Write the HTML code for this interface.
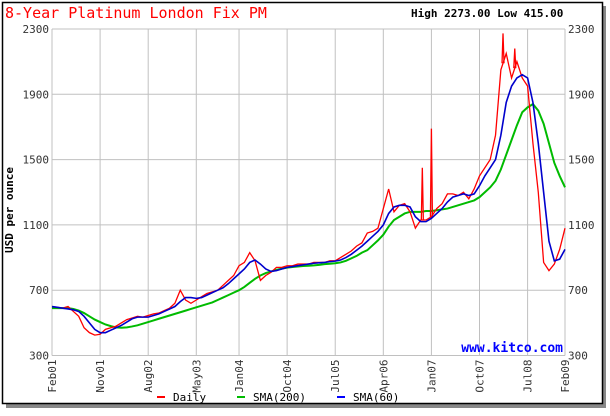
<!DOCTYPE html>
<html><head><meta charset="utf-8"><style>
body{margin:0;background:#fff;}
svg text{font-family:"DejaVu Sans Mono","Liberation Mono",monospace;}
</style></head><body>
<svg id="c" width="610" height="411" xmlns="http://www.w3.org/2000/svg">
<rect x="6" y="6" width="600" height="402" fill="#888"/>
<rect x="2.5" y="2.5" width="600" height="401" fill="#fff" stroke="#000" stroke-width="1.5"/>
<text x="5" y="18" font-size="15" fill="#f00">8-Year Platinum London Fix PM</text>
<text x="411" y="17" font-size="11" font-weight="bold" fill="#000">High 2273.00 Low 415.00</text>
<text x="9" y="210" font-size="11" font-weight="bold" transform="rotate(-90 9 210)" text-anchor="middle" dy="4">USD per ounce</text>
<g id="grid"></g><g id="series"></g>
<text x="563" y="352" font-size="13" font-weight="bold" fill="#00f" text-anchor="end">www.kitco.com</text>
<g font-size="11">
<rect x="157" y="396" width="8" height="2" fill="#f00"/>
<text x="173" y="401">Daily</text>
<rect x="237" y="396" width="8" height="2" fill="#0b0"/>
<text x="253" y="401">SMA(200)</text>
<rect x="337" y="396" width="8" height="2" fill="#00f"/>
<text x="353" y="401">SMA(60)</text>
</g>
</svg>
<script>
const yTicks=[2300,1900,1500,1100,700,300];
const xTickLabels=["Feb01","Nov01","Aug02","May03","Jan04","Oct04","Jul05","Apr06","Jan07","Oct07","Jul08","Feb09"];
const xTickMonths=[0,9,18,27,35,44,53,62,71,80,89,96];
const daily=[600,595,590,600,570,540,470,440,425,430,460,
470,480,500,520,530,540,535,545,555,560,575,590,
620,700,640,620,640,660,680,690,700,730,760,790,
850,870,930,880,760,790,810,840,840,850,850,860,
860,860,870,870,870,880,880,900,920,940,970,990,
1050,1060,1080,1200,1320,1180,1220,1230,1180,1080,1130,1130,
1150,1200,1230,1290,1290,1280,1300,1260,1320,1400,1450,1500,
1650,2050,2150,2000,2100,2000,1950,1600,1300,870,820,860,
950,1080];
const spikeMonths=[69.3,71,84.4,86.6];
const spikeValues=[1450,1690,2273,2180];
const sma200=[590,590,590,590,585,575,560,540,520,505,490,
480,472,470,472,478,485,495,505,515,525,535,545,
555,565,575,585,595,605,615,625,640,655,670,685,
700,720,745,770,790,805,815,825,832,838,842,845,
848,850,852,855,860,862,865,870,880,895,910,930,
945,975,1005,1040,1090,1130,1150,1170,1180,1180,1180,1185,
1185,1190,1195,1200,1210,1220,1230,1240,1250,1270,1300,1330,
1370,1440,1530,1620,1710,1790,1820,1840,1800,1720,1600,1480,
1400,1330];
const sma60=[600,595,590,585,580,570,540,500,460,440,440,
455,470,485,505,525,535,535,535,545,555,570,585,
600,630,655,655,650,655,670,685,700,715,740,770,
800,830,870,885,860,830,815,820,830,840,845,850,
855,860,865,868,870,875,878,885,900,920,945,970,
1000,1030,1060,1100,1170,1210,1220,1220,1210,1150,1120,1120,
1140,1170,1200,1240,1270,1280,1290,1280,1290,1340,1400,1450,
1500,1650,1850,1950,2000,2020,2000,1850,1600,1300,1000,880,
890,950];
const X0=52,X1=565,Y0=29,Y1=355.5;
const xs=m=>X0+m*(X1-X0)/96;
const ys=v=>Y1-(v-300)*(Y1-Y0)/2000;
const NS="http://www.w3.org/2000/svg";
const grid=document.getElementById('grid'),ser=document.getElementById('series');
function mk(t,a,p){const e=document.createElementNS(NS,t);for(const k in a)e.setAttribute(k,a[k]);p.appendChild(e);return e;}
yTicks.forEach(v=>{
 const l=mk('line',{x1:X0,x2:X1,y1:ys(v),y2:ys(v),stroke:'#c0c0c0'},grid);
 
 
 [[X0-3,'end'],[X1+3,'start']].forEach(([x,a])=>{
  const t=mk('text',{x:x,y:ys(v)+4,'font-size':11,'text-anchor':a,fill:'#333'},grid);t.textContent=v;
  
  
 });
});
xTickMonths.forEach((m,i)=>{
 const l=mk('line',{x1:xs(m),x2:xs(m),y1:Y0,y2:Y1,stroke:'#c0c0c0'},grid);
 
 
 const x=xs(m)+4,y=Y1+4;
 const t=mk('text',{x:x,y:y,'font-size':11,'text-anchor':'end',fill:'#333',transform:`rotate(-90 ${x} ${y})`},grid);t.textContent=xTickLabels[i];
 
 
});
function line(arr,col,w,name){
 const p=mk('polyline',{points:arr.map((v,i)=>xs(i)+','+ys(v)).join(' '),fill:'none',stroke:col,'stroke-width':w},ser);
 
 
}
line(sma200,'#0b0',2,'sma200-line');
line(daily,'#f00',1.3,'daily-line');
spikeMonths.forEach((m,i)=>{
 const b=Math.floor(m),base=daily[b]+(daily[b+1]-daily[b])*(m-b);
 const p=mk('polyline',{points:`${xs(m)-1},${ys(base)} ${xs(m)},${ys(spikeValues[i])} ${xs(m)+1},${ys(base)}`,fill:'none',stroke:'#f00','stroke-width':1.3},ser);
 
 
});
line(sma60,'#00c',1.6,'sma60-line');
</script>
</body></html>
